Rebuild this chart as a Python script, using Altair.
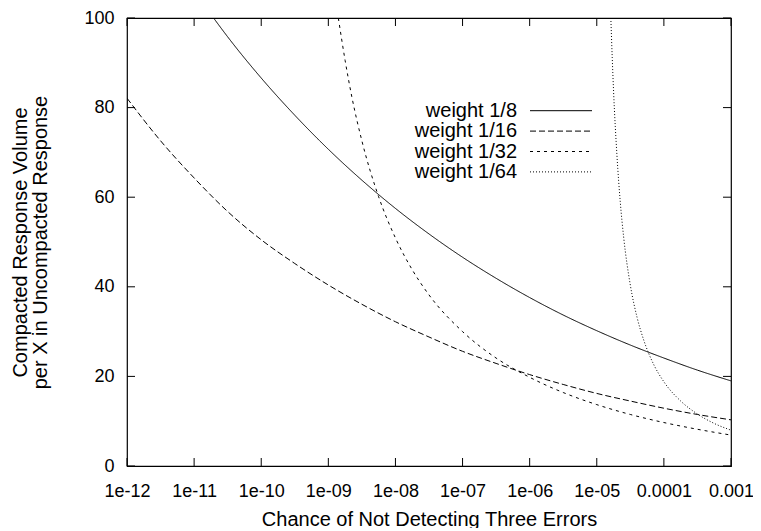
import json
import altair as alt
import pandas as pd

# ---------------- data ----------------
series_names = ["weight 1/8", "weight 1/16", "weight 1/32", "weight 1/64"]

w8_x = [1.95e-11, 3.16e-11, 1e-10, 3.16e-10, 1e-9, 3.16e-9, 1e-8, 3.16e-8, 1e-7,
        3.16e-7, 1e-6, 3.16e-6, 1e-5, 3.16e-5, 1e-4, 3.16e-4, 1e-3]
w8_y = [100, 95.8, 86.6, 78.3, 70.7, 63.8, 57.5, 51.8, 46.6,
        41.9, 37.6, 33.7, 30.2, 27.0, 24.1, 21.4, 19.0]

w16_x = [1e-12, 3.16e-12, 1e-11, 3.16e-11, 1e-10, 3.16e-10, 1e-9, 3.16e-9, 1e-8,
         3.16e-8, 1e-7, 3.16e-7, 1e-6, 3.16e-6, 1e-5, 3.16e-5, 1e-4, 3.16e-4, 1e-3]
w16_y = [82.1, 72.6, 64.3, 56.8, 50.5, 45.2, 40.4, 36.1, 32.2,
         28.8, 25.6, 22.9, 20.4, 18.2, 16.2, 14.5, 12.9, 11.5, 10.3]

w32_x = [1.41e-9, 1.78e-9, 2.24e-9, 3.16e-9, 5.62e-9, 1e-8, 1.78e-8, 3.16e-8,
         1e-7, 3.16e-7, 1e-6, 3.16e-6, 1e-5, 3.16e-5, 1e-4, 3.16e-4, 1e-3]
w32_y = [100, 90.5, 82.4, 72.6, 60.1, 50.9, 43.8, 38.2,
         30.0, 24.1, 19.8, 16.4, 13.7, 11.5, 9.7, 8.2, 6.9]

w64_x = [1.62e-5, 1.70e-5, 1.78e-5, 2.0e-5, 2.24e-5, 2.51e-5, 3.16e-5, 3.98e-5,
         5.01e-5, 7.08e-5, 1e-4, 1.78e-4, 3.16e-4, 5.62e-4, 1e-3]
w64_y = [100, 91.1, 83.6, 69.2, 58.9, 51.2, 40.4, 33.2,
         28.1, 22.6, 18.8, 14.5, 11.6, 9.5, 8.0]

x_tick_values = [1e-12, 1e-11, 1e-10, 1e-9, 1e-8, 1e-7, 1e-6, 1e-5, 1e-4, 1e-3]
x_tick_labels = ["1e-12", "1e-11", "1e-10", "1e-09", "1e-08", "1e-07",
                 "1e-06", "1e-05", "0.0001", "0.001"]
y_tick_values = [0, 20, 40, 60, 80, 100]

x_title = "Chance of Not Detecting Three Errors"
y_title = ["Compacted Response Volume", "per X in Uncompacted Response"]

dash_styles = [[1, 0], [6, 3], [3, 4], [1, 2]]

# ---------------- layout / style ----------------
W, H = 604, 448
FONT = "Liberation Sans"
FS = 18
TITLE_FS = 20
LEG_FS = 20
TICK = 8

frames = []
for name, xs, ys in zip(series_names, [w8_x, w16_x, w32_x, w64_x],
                        [w8_y, w16_y, w32_y, w64_y]):
    frames.append(pd.DataFrame({"series": name, "x": xs, "y": ys}))
df = pd.concat(frames, ignore_index=True)

xscale = alt.Scale(type="log", domain=[1e-12, 1e-3], nice=False)
yscale = alt.Scale(domain=[0, 100], nice=False, zero=False)

label_expr = json.dumps(x_tick_labels) + "[round(log(datum.value)/LN10)+12]"

x_axis = alt.Axis(values=x_tick_values, labelExpr=label_expr, title=x_title,
                  ticks=False, domain=False, grid=False, labelOverlap=False,
                  labelBound=False, labelFlush=False, labelPadding=16,
                  titleBaseline="middle", titleY=53, titleX=W / 2)
y_axis = alt.Axis(values=y_tick_values, title=y_title, ticks=False, domain=False,
                  grid=False, labelPadding=13, titleAngle=270, titleAlign="center",
                  titleBaseline="middle", titleX=-107, titleY=H / 2,
                  titleLineHeight=20)

lines = alt.Chart(df).mark_line(color="black", strokeWidth=1, clip=True,
                                interpolate="monotone").encode(
    x=alt.X("x:Q", scale=xscale, axis=x_axis),
    y=alt.Y("y:Q", scale=yscale, axis=y_axis),
    strokeDash=alt.StrokeDash("series:N", legend=None,
                              scale=alt.Scale(domain=series_names, range=dash_styles)),
    detail="series:N",
)

xt = pd.DataFrame({"v": x_tick_values})
yt = pd.DataFrame({"v": y_tick_values})

xticks_bottom = alt.Chart(xt).mark_rule(color="black", strokeWidth=1).encode(
    x=alt.X("v:Q", scale=xscale), y=alt.value(H), y2=alt.value(H - TICK))
xticks_top = alt.Chart(xt).mark_rule(color="black", strokeWidth=1).encode(
    x=alt.X("v:Q", scale=xscale), y=alt.value(0), y2=alt.value(TICK))
yticks_left = alt.Chart(yt).mark_rule(color="black", strokeWidth=1).encode(
    y=alt.Y("v:Q", scale=yscale), x=alt.value(0), x2=alt.value(TICK))
yticks_right = alt.Chart(yt).mark_rule(color="black", strokeWidth=1).encode(
    y=alt.Y("v:Q", scale=yscale), x=alt.value(W), x2=alt.value(W - TICK))

# legend (gnuplot style: label then sample, inside the plot)
LEG_X_TEXT, LEG_X0, LEG_X1, LEG_Y0, LEG_DY = 390, 403, 465, 92.7, 20.4
legend_layers = []
for i, (name, dash) in enumerate(zip(series_names, dash_styles)):
    ld = pd.DataFrame({"series": [name]})
    yy = LEG_Y0 + LEG_DY * i
    legend_layers.append(
        alt.Chart(ld).mark_text(align="right", baseline="middle", font=FONT,
                                fontSize=LEG_FS, color="black").encode(
            text="series:N", x=alt.value(LEG_X_TEXT), y=alt.value(yy)))
    legend_layers.append(
        alt.Chart(ld).mark_rule(color="black", strokeWidth=1, strokeDash=dash).encode(
            x=alt.value(LEG_X0), x2=alt.value(LEG_X1), y=alt.value(yy)))

chart = alt.layer(lines, xticks_bottom, xticks_top, yticks_left, yticks_right,
                  *legend_layers).properties(
    width=W, height=H,
    padding={"left": 119, "top": 10, "right": 22, "bottom": 62},
    autosize=alt.AutoSizeParams(type="none"),
    background="white",
).configure_view(stroke="black", strokeWidth=1.2).configure_axis(
    labelFont=FONT, labelFontSize=FS, labelColor="black",
    titleFont=FONT, titleFontSize=TITLE_FS, titleColor="black", titleFontWeight="normal",
)

chart.save("out.html", embed_options={"renderer": "svg", "actions": False})
